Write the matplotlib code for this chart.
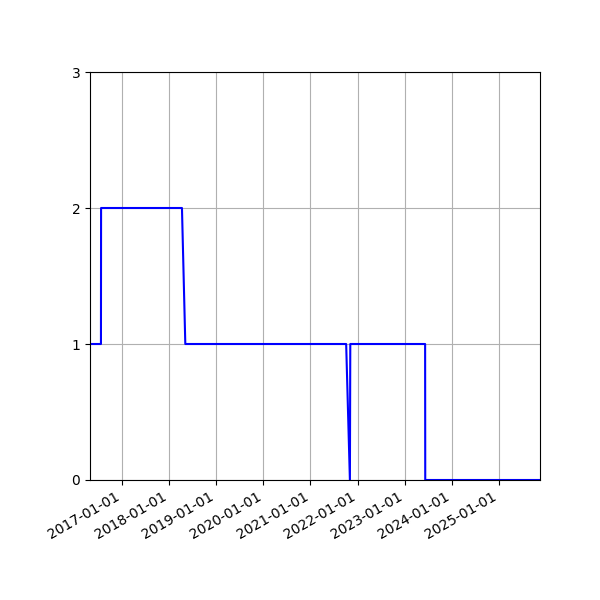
import numpy as np
import pandas as pd
import matplotlib
matplotlib.use('Agg')
import matplotlib.pyplot as plt
import matplotlib.dates as mdates

dates = ['2016-04-25', '2016-07-19', '2016-07-20', '2018-04-09', '2018-05-05',
         '2021-10-05', '2021-11-03', '2021-11-06', '2023-06-10', '2023-06-11',
         '2025-11-18']
values = [1, 1, 2, 2, 1, 1, 0, 1, 1, 0, 0]
y_ticks = [0, 1, 2, 3]

x = pd.to_datetime(dates)

fig, ax = plt.subplots(figsize=(6, 6), dpi=100)
ax.plot(x, values, color='blue')
ax.set_xlim(x[0], x[-1])
ax.set_ylim(0, 3)
ax.set_yticks(y_ticks)
ax.xaxis.set_major_locator(mdates.YearLocator())
ax.xaxis.set_major_formatter(mdates.DateFormatter('%Y-%m-%d'))
ax.grid(True)
fig.autofmt_xdate()
fig.subplots_adjust(left=0.15, right=0.9, top=0.88, bottom=0.2)

fig.savefig('out.png')
